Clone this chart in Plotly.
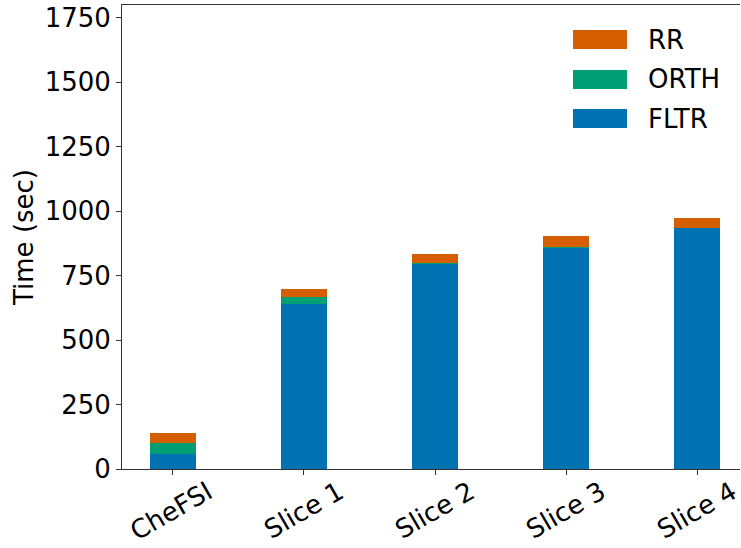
import plotly.graph_objects as go

categories = ["CheFSI", "Slice 1", "Slice 2", "Slice 3", "Slice 4"]
fltr = [58, 640, 797, 858, 935]
orth = [42, 26, 2, 2, 1]
rr = [40, 33, 37, 45, 39]

series_names = ["FLTR", "ORTH", "RR"]
series_values = [fltr, orth, rr]
colors = ["#0072B2", "#009E73", "#D55E00"]

W, H = 741, 548
L, R, T, B = 122, 740, 5, 469

xpos = list(range(len(categories)))

fig = go.Figure()
for name, vals, c in zip(series_names, series_values, colors):
    fig.add_trace(go.Bar(x=xpos, y=vals, name=name, marker=dict(color=c, line=dict(width=0)),
                         width=0.35, showlegend=False))

font = "DejaVu Sans"
fs = 26

def px(x):
    return (x - L) / (R - L)

def py(y):
    return (B - y) / (B - T)

# custom legend (matplotlib-style patches)
legend_rows = [("RR", colors[2], 30, 49), ("ORTH", colors[1], 70, 89), ("FLTR", colors[0], 109, 128)]
shapes = []
annotations = []
for name, c, y0, y1 in legend_rows:
    shapes.append(dict(type="rect", xref="paper", yref="paper", x0=px(573), x1=px(627),
                       y0=py(y1), y1=py(y0), fillcolor=c, line=dict(width=0)))
    annotations.append(dict(xref="paper", yref="paper", x=px(646), y=py((y0 + y1) / 2),
                            text=name, showarrow=False, xanchor="left", yanchor="middle",
                            font=dict(family=font, size=fs, color="black")))

fig.update_layout(
    width=W, height=H,
    margin=dict(l=L, r=W - R, t=T, b=H - B, pad=0, autoexpand=False),
    barmode="stack",
    plot_bgcolor="white", paper_bgcolor="white",
    font=dict(family=font, size=fs, color="black"),
    shapes=shapes, annotations=annotations,
    xaxis=dict(range=[-0.389, 4.328], tickmode="array", tickvals=xpos, ticktext=categories,
               tickangle=-30, ticks="outside", ticklen=5, tickwidth=1, tickcolor="#333",
               showline=True, linecolor="#333", linewidth=1, mirror=True,
               showgrid=False, zeroline=False, ticklabelshift=35, ticklabelstandoff=-8,
               automargin=False, ticklabeloverflow="allow",
               tickfont=dict(family=font, size=fs, color="black")),
    yaxis=dict(range=[0, 1800], tickvals=[0, 250, 500, 750, 1000, 1250, 1500, 1750],
               ticks="outside", ticklen=5, tickwidth=1, tickcolor="#333",
               showline=True, linecolor="#333", linewidth=1, mirror=False,
               showgrid=False, zeroline=False, automargin=False,
               title=dict(text="Time (sec)", standoff=3, font=dict(family=font, size=fs)),
               tickfont=dict(family=font, size=fs, color="black")),
)

fig.write_html("out.html", config={"displayModeBar": False},
               post_script="document.body.style.margin='0px';document.body.style.overflow='hidden';")
